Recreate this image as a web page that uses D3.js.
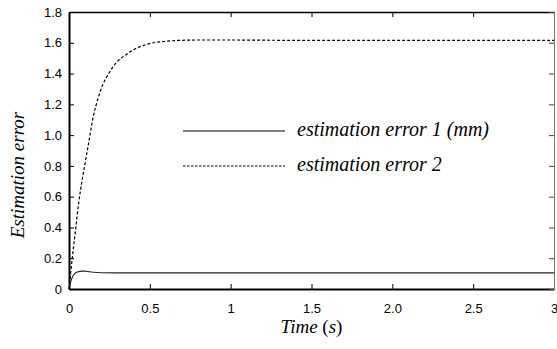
<!DOCTYPE html>
<html>
<head>
<meta charset="utf-8">
<script src="https://cdn.jsdelivr.net/npm/d3@7"></script>
<style>
  body { margin: 0; background: #fff; }
  svg { display: block; }
</style>
</head>
<body>
<div id="chart"></div>
<script>
// series 1: estimation error 1 (mm)
const time1 = [0, 0.01, 0.02, 0.03, 0.04, 0.06, 0.08, 0.1, 0.12, 0.15, 0.2, 0.3, 0.5, 1, 2, 3]
const err1 = [0, 0.045, 0.075, 0.093, 0.104, 0.113, 0.116, 0.116, 0.113, 0.109, 0.106, 0.105, 0.105, 0.105, 0.105, 0.105]

// series 2: estimation error 2
const time2 = [0, 0.02, 0.04, 0.06, 0.08, 0.1, 0.12, 0.15, 0.18, 0.21, 0.24, 0.27, 0.31, 0.35, 0.39, 0.44, 0.5, 0.58, 0.67, 0.8, 1, 1.5, 2, 2.5, 3]
const err2 = [0, 0.2, 0.38, 0.56, 0.7, 0.82, 0.94, 1.12, 1.24, 1.33, 1.39, 1.44, 1.49, 1.52, 1.55, 1.575, 1.595, 1.608, 1.615, 1.618, 1.618, 1.615, 1.615, 1.615, 1.615]

const xTicks = [0, 0.5, 1, 1.5, 2, 2.5, 3]
const xTickLabels = ['0', '0.5', '1', '1.5', '2.0', '2.5', '3']
const yTicks = [0, 0.2, 0.4, 0.6, 0.8, 1.0, 1.2, 1.4, 1.6, 1.8]
const yTickLabels = ['0', '0.2', '0.4', '0.6', '0.8', '1.0', '1.2', '1.4', '1.6', '1.8']
const legendLabels = ['estimation error 1 (mm)', 'estimation error 2']

const width = 557
const height = 349
const margin = { top: 12, right: 3, bottom: 60, left: 69 }

const svg = d3
  .select('#chart')
  .append('svg')
  .attr('width', width)
  .attr('height', height)

const x = d3.scaleLinear().domain([0, 3]).range([margin.left, width - margin.right])
const y = d3.scaleLinear().domain([0, 1.8]).range([height - margin.bottom, margin.top])

const tickFont = "'Liberation Sans', Arial, sans-serif"
const titleFont = "'Liberation Serif', 'Times New Roman', serif"

// inward ticks on all four sides
const axisB = svg
  .append('g')
  .attr('transform', `translate(0,${y(0)})`)
  .call(
    d3.axisBottom(x).tickValues(xTicks).tickSizeInner(-5).tickSizeOuter(0)
      .tickPadding(14.5).tickFormat((d, i) => xTickLabels[i])
  )
const axisT = svg
  .append('g')
  .attr('transform', `translate(0,${y(1.8)})`)
  .call(d3.axisTop(x).tickValues(xTicks).tickSizeInner(-5).tickSizeOuter(0).tickFormat(''))
const axisL = svg
  .append('g')
  .attr('transform', `translate(${x(0)},0)`)
  .call(
    d3.axisLeft(y).tickValues(yTicks).tickSizeInner(-5).tickSizeOuter(0)
      .tickPadding(7).tickFormat((d, i) => yTickLabels[i])
  )
const axisR = svg
  .append('g')
  .attr('transform', `translate(${x(3)},0)`)
  .call(d3.axisRight(y).tickValues(yTicks).tickSizeInner(-5).tickSizeOuter(0).tickFormat(''))

svg.selectAll('.tick text')
  .style('font-family', tickFont)
  .style('font-size', '13px')
  .attr('fill', '#000')
svg.selectAll('.tick line').attr('stroke', '#000').attr('stroke-width', 1)

axisB.select('.domain').attr('stroke', '#000').attr('stroke-width', 2)
axisL.select('.domain').attr('stroke', '#000').attr('stroke-width', 2)
axisT.select('.domain').attr('stroke', '#000').attr('stroke-width', 1.3)
axisR.select('.domain').attr('stroke', '#777').attr('stroke-width', 1)
axisR.selectAll('.tick line').attr('stroke', '#444')

const line = d3
  .line()
  .x((d) => x(d[0]))
  .y((d) => y(d[1]))
  .curve(d3.curveMonotoneX)

svg
  .append('path')
  .attr('d', line(time1.map((t, i) => [t, err1[i]])))
  .attr('fill', 'none')
  .attr('stroke', '#222')
  .attr('stroke-width', 1.1)

svg
  .append('path')
  .attr('d', line(time2.map((t, i) => [t, err2[i]])))
  .attr('fill', 'none')
  .attr('stroke', '#000')
  .attr('stroke-width', 1.2)
  .attr('stroke-dasharray', '3,2')

// legend
const legend = svg.append('g').attr('transform', 'translate(183,131)')
legendLabels.forEach((label, i) => {
  const g = legend.append('g').attr('transform', `translate(0,${i * 35})`)
  g.append('line')
    .attr('x1', 0)
    .attr('x2', 102)
    .attr('y1', 0)
    .attr('y2', 0)
    .attr('stroke', '#000')
    .attr('stroke-width', 1)
    .attr('stroke-dasharray', i === 0 ? null : '2.5,1.5')
  g.append('text')
    .attr('x', 114)
    .attr('y', 5)
    .style('font-family', titleFont)
    .style('font-style', 'italic')
    .style('font-size', '20px')
    .text(label)
})

// axis titles
const xt = svg
  .append('text')
  .attr('x', (x(0) + x(3)) / 2)
  .attr('y', 333)
  .attr('text-anchor', 'middle')
  .style('font-family', titleFont)
  .style('font-size', '19px')
xt.append('tspan').style('font-style', 'italic').text('Time ')
xt.append('tspan').text('(')
xt.append('tspan').style('font-style', 'italic').text('s')
xt.append('tspan').text(')')

svg
  .append('text')
  .attr('transform', `translate(24,175) rotate(-90)`)
  .attr('text-anchor', 'middle')
  .style('font-family', titleFont)
  .style('font-style', 'italic')
  .style('font-size', '19px')
  .text('Estimation error')
</script>
</body>
</html>
